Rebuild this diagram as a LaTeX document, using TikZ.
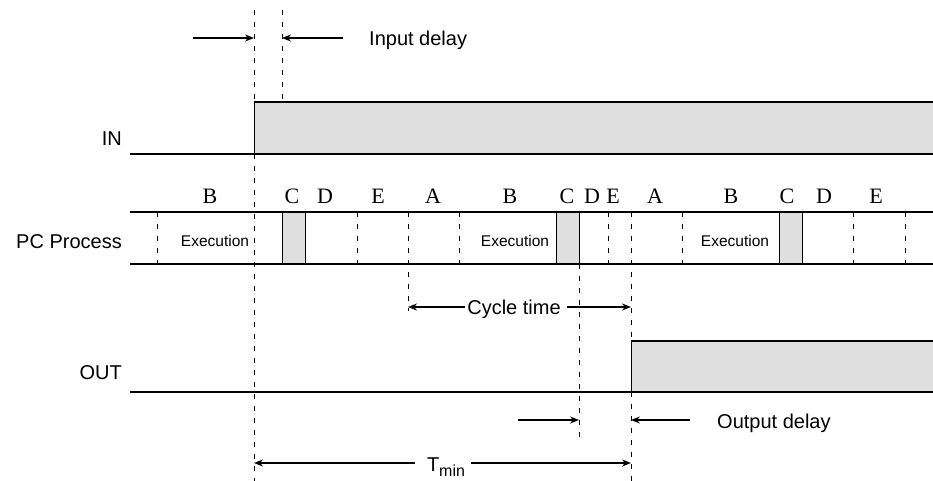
\documentclass[tikz,border=0pt]{standalone}
\usepackage{fontspec}
\setmainfont{Liberation Sans}
\newfontfamily\phasefont{Liberation Serif}
\usetikzlibrary{arrows.meta}
\begin{document}
\begin{tikzpicture}[declare function={inhi=102; inlo=154; pchi=212; pclo=264; outhi=341; outlo=392; xst=130; xend=933; xin=254; xrd=282; xcy=408; xwr=579; xout=631;},
  x=1pt,y=-1pt,line join=round,>={Stealth[length=9pt,width=7pt]},
  every node/.style={font=\fontsize{20}{23}\selectfont,inner sep=2pt},
  sig/.style={line width=1.7pt},
  dashline/.style={line width=0.8pt,dash pattern=on 5pt off 7pt},
  delay/.style={->,line width=1.7pt},
  hilo/.style={fill=gray!25},
  phase/.style={font=\phasefont\fontsize{22}{24}\selectfont},
  exec/.style={font=\fontsize{15.5}{17}\selectfont}]
  \useasboundingbox (0,0) rectangle (933,481);
  \path
  (xrd,38) coordinate (rd)
  (xin,38) coordinate (inedge)
  (xcy,307) coordinate (cyA)
  (xout,307) coordinate (cyB)
  (xwr,420) coordinate (wr)
  (xout,420) coordinate (outedge)
  (xin,463) coordinate (tA)
  (xout,463) coordinate (tB);
  % IN
  \fill[hilo] (xin,inhi) rectangle (xend,inlo);
  \draw[sig] (xst,inlo) -- (xend,inlo);
  \draw[sig] (xin,inhi) -- (xend,inhi);
  \draw[line width=0.8pt] (xin,inhi) -- (xin,inlo);
  % PC process
  \foreach \a/\b in {282/305,556/579,779/802}{
    \filldraw[hilo,draw=black,line width=1pt] (\a,pchi) rectangle (\b,pclo);
  }
  \draw[sig] (xst,pchi) -- (xend,pchi);
  \draw[sig] (xst,pclo) -- (xend,pclo);
  \foreach \x in {157,357,459,608,682,853,905}{
    \draw[dashline] (\x,pchi) -- (\x,pclo);
  }
  % OUT
  \fill[hilo] (xout,outhi) rectangle (xend,outlo);
  \draw[sig] (xst,outlo) -- (xend,outlo);
  \draw[sig] (xout,outhi) -- (xend,outhi);
  \draw[line width=0.8pt] (xout,outhi) -- (xout,outlo);
  % time marks
  \draw[dashline] (xin,10) -- (xin,481);
  \draw[dashline] (xrd,10) -- (xrd,inhi);
  \draw[dashline] (xcy,pchi) -- (xcy,311);
  \draw[dashline] (xwr,pclo) -- (xwr,440);
  \draw[dashline] (xout,pchi) -- (xout,outhi);
  \draw[dashline] (xout,outlo) -- (xout,481);
  % labels
  \node[anchor=east] (lin) at (124,139) {IN};
  \node[anchor=east] (lpc) at (124,242) {PC Process};
  \node[anchor=east] (lout) at (124,373) {OUT};
  \foreach \l/\x in {B/210,C/292,D/325,E/378,A/433,B/510,C/567,D/592,E/613,A/655,B/731,C/787,D/824,E/876}{
    \node[phase] (ph\x) at (\x,196) {\l};
  }
  \foreach \x in {215,515,735}{
    \node[exec] (ex\x) at (\x,241) {Execution};
  }
  % delays
  \node[anchor=west] (indelay) at (367,40) {Input delay};
  \coordinate (inA) at (193,38);
  \coordinate (inB) at (343,38);
  \draw[delay] (inA) -- (inedge);
  \draw[delay] (inB) -- (rd);
  \node (cycle) at (514,309) {Cycle time};
  \draw[delay] (cycle.west) ++(0,-2) -- (cyA);
  \draw[delay] (cycle.east) ++(4,-2) -- (cyB);
  \node[anchor=west] (outdelay) at (715,423) {Output delay};
  \coordinate (outA) at (518,420);
  \coordinate (outB) at (690,420);
  \draw[delay] (outA) -- (wr);
  \draw[delay] (outB) -- (outedge);
  \node (tmin) at (446,467) {T\raisebox{-0.45ex}{\fontsize{16}{17}\selectfont min}};
  \draw[delay] (tmin.west) ++(-10,-4) -- (tA);
  \draw[delay] (tmin.east) ++(4,-4) -- (tB);
\end{tikzpicture}
\end{document}
